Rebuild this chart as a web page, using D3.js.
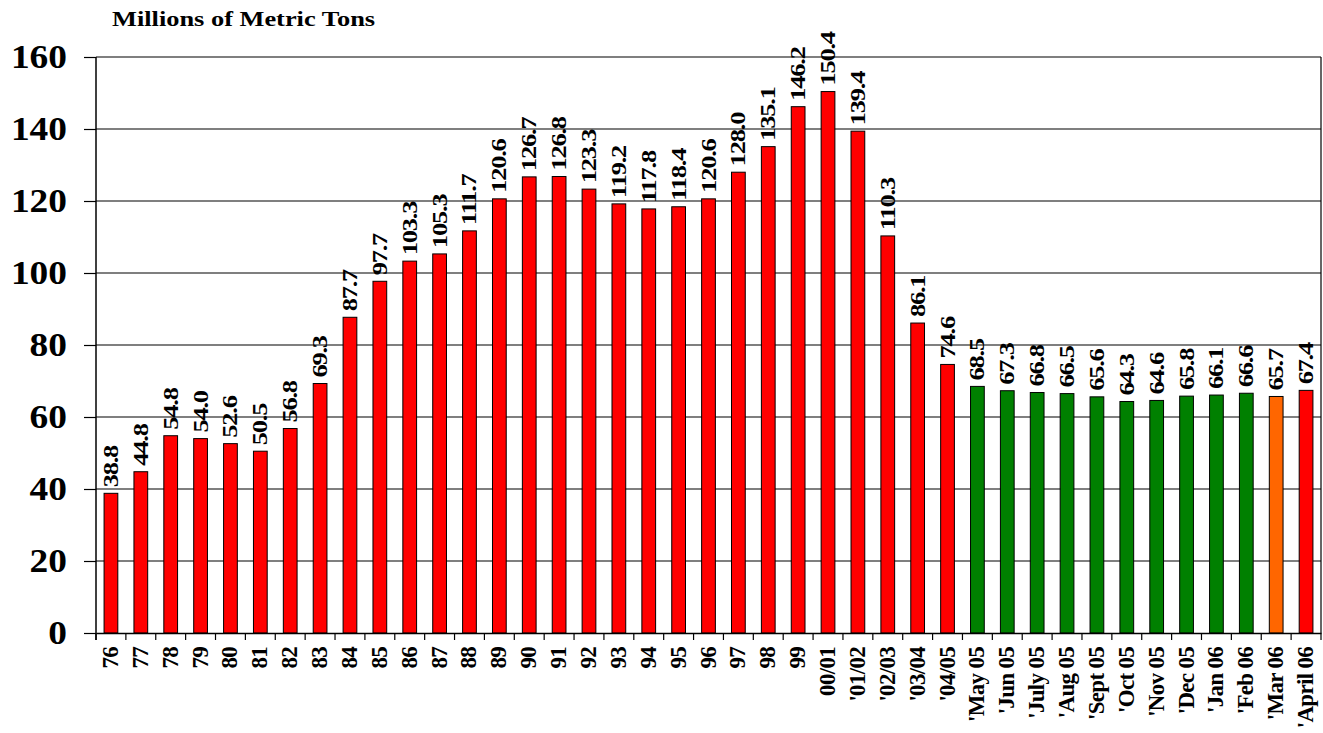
<!DOCTYPE html>
<html>
<head>
<meta charset="utf-8">
<script src="https://cdn.jsdelivr.net/npm/d3@7"></script>
<style>
  body { margin: 0; background: #fff; }
  text { font-family: "Liberation Serif", "Times New Roman", serif; font-weight: bold; fill: #000; }
</style>
</head>
<body>
<div id="chart-area"></div>
<script>
var width = 1323;
var height = 733;

// categories (years / months)
var categories = ["76", "77", "78", "79", "80", "81", "82", "83", "84", "85", "86", "87", "88", "89",
    "90", "91", "92", "93", "94", "95", "96", "97", "98", "99", "00/01", "'01/02", "'02/03", "'03/04",
    "'04/05", "'May 05", "'Jun 05", "'July 05", "'Aug 05", "'Sept 05", "'Oct 05", "'Nov 05",
    "'Dec 05", "'Jan 06", "'Feb 06", "'Mar 06", "'April 06"];

// millions of metric tons
var values = [38.8, 44.8, 54.8, 54.0, 52.6, 50.5, 56.8, 69.3, 87.7, 97.7, 103.3, 105.3, 111.7, 120.6,
    126.7, 126.8, 123.3, 119.2, 117.8, 118.4, 120.6, 128.0, 135.1, 146.2, 150.4, 139.4, 110.3, 86.1,
    74.6, 68.5, 67.3, 66.8, 66.5, 65.6, 64.3, 64.6, 65.8, 66.1, 66.6, 65.7, 67.4];

// which group each bar belongs to
var kinds = ["y", "y", "y", "y", "y", "y", "y", "y", "y", "y", "y", "y", "y", "y",
    "y", "y", "y", "y", "y", "y", "y", "y", "y", "y", "y", "y", "y", "y",
    "y", "m", "m", "m", "m", "m", "m", "m", "m", "m", "m", "p", "c"];

var yTicks = [0, 20, 40, 60, 80, 100, 120, 140, 160];

var colorOf = { y: "#ff0000", m: "#008000", p: "#ff6600", c: "#ff0000" };

var plotLeft = 96, plotRight = 1321, plotTop = 57, plotBottom = 633;

var svg = d3.select("#chart-area").append("svg")
    .attr("width", width)
    .attr("height", height);

var x = d3.scaleBand()
    .domain(categories)
    .range([plotLeft, plotRight])
    .paddingInner(0)
    .paddingOuter(0);

var y = d3.scaleLinear()
    .domain([0, 160])
    .range([plotBottom, plotTop]);

//gridlines
svg.append("g")
    .selectAll("line")
    .data(yTicks.filter(function(d){ return d > 0; }))
    .enter()
    .append("line")
    .attr("x1", plotLeft)
    .attr("x2", plotRight)
    .attr("y1", function(d){ return y(d); })
    .attr("y2", function(d){ return y(d); })
    .attr("stroke", "#000")
    .attr("stroke-width", 1.2);

// right border
svg.append("line")
    .attr("x1", plotRight).attr("x2", plotRight)
    .attr("y1", plotTop).attr("y2", plotBottom)
    .attr("stroke", "#000")
    .attr("stroke-width", 1.2);

//bars
var bw = x.bandwidth() * 0.46;
svg.append("g")
    .selectAll("rect")
    .data(values)
    .enter()
    .append("rect")
    .attr("x", function(d, i){ return x(categories[i]) + x.bandwidth() / 2 - bw / 2; })
    .attr("y", function(d){ return y(d); })
    .attr("width", bw)
    .attr("height", function(d){ return y(0) - y(d); })
    .attr("fill", function(d, i){ return colorOf[kinds[i]]; })
    .attr("stroke", "#000")
    .attr("stroke-width", 1);

//value labels
svg.append("g")
    .selectAll("text")
    .data(values)
    .enter()
    .append("text")
    .attr("transform", function(d, i){
        var cx = x(categories[i]) + x.bandwidth() / 2 + 7;
        return "translate(" + cx + "," + (y(d) - 6) + ") rotate(-90) scale(1.2,1)";
    })
    .attr("font-size", 22)
    .attr("letter-spacing", -1)
    .text(function(d){ return d.toFixed(1); });

//axes
var x_axis = d3.axisBottom(x).tickSize(0).tickFormat("");
var y_axis = d3.axisLeft(y).tickValues(yTicks).tickSize(12).tickFormat("");

svg.append("g")
    .attr("transform", "translate(0," + plotBottom + ")")
    .call(x_axis)
    .call(function(g){ g.select(".domain").attr("stroke", "#000").attr("stroke-width", 1.5); });

// ticks between categories
svg.append("g")
    .selectAll("line")
    .data(categories.concat(["end"]))
    .enter()
    .append("line")
    .attr("x1", function(d, i){ return plotLeft + i * x.step(); })
    .attr("x2", function(d, i){ return plotLeft + i * x.step(); })
    .attr("y1", plotBottom)
    .attr("y2", plotBottom + 7)
    .attr("stroke", "#000")
    .attr("stroke-width", 1.2);

svg.append("g")
    .attr("transform", "translate(" + plotLeft + ",0)")
    .call(y_axis)
    .call(function(g){
        g.select(".domain").remove();
        g.selectAll(".tick line").attr("stroke", "#000").attr("stroke-width", 1.2);
    });

svg.append("line")
    .attr("x1", plotLeft).attr("x2", plotLeft)
    .attr("y1", plotTop).attr("y2", plotBottom + 7)
    .attr("stroke", "#000")
    .attr("stroke-width", 1.5);

// y tick labels
svg.append("g")
    .selectAll("text")
    .data(yTicks)
    .enter()
    .append("text")
    .attr("transform", function(d){ return "translate(67," + (y(d) + 11) + ") scale(1.1,1)"; })
    .attr("text-anchor", "end")
    .attr("font-size", 34)
    .text(function(d){ return d; });

// x tick labels
svg.append("g")
    .selectAll("text")
    .data(categories)
    .enter()
    .append("text")
    .attr("transform", function(d){
        var cx = x(d) + x.bandwidth() / 2 + 7;
        return "translate(" + cx + "," + (plotBottom + 14) + ") rotate(-90)";
    })
    .attr("text-anchor", "end")
    .attr("font-size", 23)
    .attr("letter-spacing", -0.7)
    .text(function(d){ return d; });

//title
svg.append("text")
    .attr("transform", "translate(112,26) scale(1.2,1)")
    .attr("font-size", 22)
    .text("Millions of Metric Tons");
</script>
</body>
</html>
